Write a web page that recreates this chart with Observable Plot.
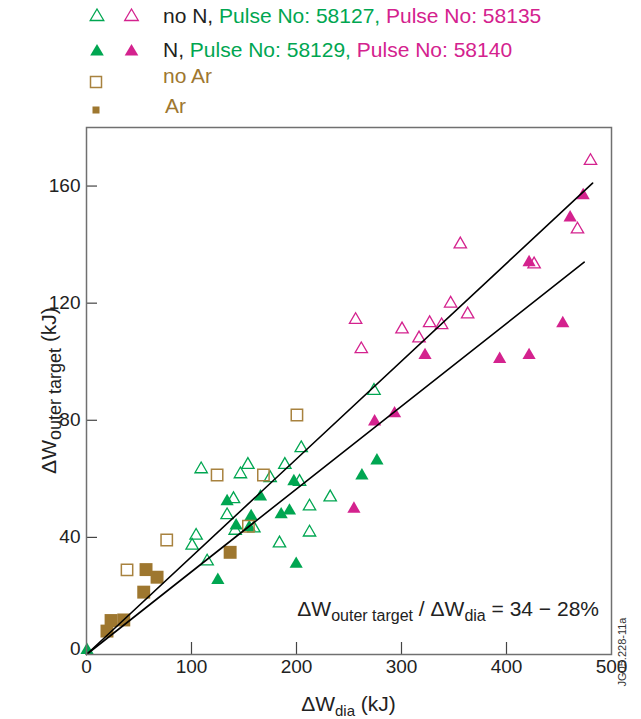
<!DOCTYPE html>
<html><head><meta charset="utf-8">
<script src="https://cdn.jsdelivr.net/npm/d3@7"></script>
<script src="https://cdn.jsdelivr.net/npm/@observablehq/plot@0.6"></script>
<style>
body{margin:0;background:#fff;}
#wrap{position:relative;width:641px;height:719px;font-family:"Liberation Sans",Arial,sans-serif;}
#wrap svg{position:absolute;left:0;top:0;}
</style></head><body><div id="wrap"></div>
<script>
// ---- data ----
const xTicks = [0, 100, 200, 300, 400, 500];
const yTicks = [0, 40, 80, 120, 160];

// no N, Pulse 58127 (green, open)
const greenOpenX = [100.6, 104.4, 109.2, 114.9, 133.9, 140.0, 141.6, 146.6, 153.7, 159.4, 174.9, 183.8, 188.9, 202.9, 204.5, 212.4, 212.4, 232.1, 273.8];
const greenOpenY = [37.2, 40.6, 63.3, 31.8, 47.6, 53.1, 42.3, 61.6, 64.8, 43.1, 60.3, 38.0, 64.8, 59.0, 70.5, 50.6, 41.7, 53.7, 90.1];
// N, Pulse 58129 (green, filled)
const greenFilledX = [0.5, 125.1, 133.9, 142.5, 155.0, 156.8, 165.7, 185.4, 193.3, 197.5, 199.7, 262.3, 276.6];
const greenFilledY = [1.5, 25.4, 52.3, 44.0, 43.4, 47.2, 53.9, 47.8, 49.1, 59.1, 30.9, 61.1, 66.2];
// no N, Pulse 58135 (magenta, open)
const magOpenX = [256.3, 261.7, 300.5, 316.7, 326.8, 338.2, 346.8, 356.0, 363.0, 426.3, 467.6, 480.0];
const magOpenY = [114.3, 104.3, 111.1, 108.0, 113.2, 112.5, 119.9, 140.1, 116.2, 133.3, 145.2, 168.6];
// N, Pulse 58140 (magenta, filled)
const magFilledX = [254.7, 274.4, 293.4, 322.4, 393.5, 421.5, 421.5, 453.6, 460.6, 473.0];
const magFilledY = [49.7, 79.5, 82.3, 102.2, 100.9, 102.2, 133.9, 113.1, 149.2, 156.8];
// no Ar (brown, open squares)
const noArX = [38.6, 76.4, 124.4, 154.2, 168.5, 200.4];
const noArY = [28.9, 39.1, 61.3, 43.8, 61.3, 81.8];
// Ar (brown, filled squares)
const arX = [19.5, 23.4, 35.5, 54.5, 56.7, 67.2, 136.8];
const arY = [8.0, 11.6, 11.8, 21.3, 29.0, 26.4, 34.9];
// fit lines
const fitHighX = [0, 482], fitHighY = [0, 161];
const fitLowX = [0, 474], fitLowY = [0, 134];

// ---- styles ----
const GREEN = "#00a651", MAG = "#d4228e", BROWN = "#9e772f", BROWN_OPEN = "#a8823f";
const FONT = '"Liberation Sans", Arial, Helvetica, sans-serif';

const pts = (xs, ys) => xs.map((x, i) => ({x, y: ys[i]}));

const plot = Plot.plot({
  width: 641, height: 719,
  marginLeft: 86, marginRight: 30, marginTop: 127, marginBottom: 65,
  style: {fontFamily: FONT, fontSize: "19px", color: "#222", background: "transparent"},
  x: {domain: [0, 500], axis: null},
  y: {domain: [0, 180], axis: null},
  marks: [
    Plot.ruleY(yTicks.filter(v => v > 0), {x1: 0, x2: 10.5, stroke: "#444", strokeWidth: 1.2}),
    Plot.ruleX(xTicks.filter(v => v > 0 && v < 500), {y1: 0, y2: 4.1, stroke: "#444", strokeWidth: 1.2}),
    Plot.axisY({ticks: yTicks.filter(v => v > 0), tickSize: 0, tickPadding: 6, fontSize: 19, tickFormat: d => d, label: null}),
    Plot.axisY({ticks: [0], tickSize: 0, tickPadding: 6, fontSize: 19, dy: -6, tickFormat: d => d, label: null}),
    Plot.axisX({ticks: xTicks, tickSize: 0, tickPadding: 5, fontSize: 19, tickFormat: d => d, label: null}),
    Plot.dot(pts(greenFilledX, greenFilledY), {x: "x", y: "y", symbol: "triangle", r: 4.9, fill: GREEN, stroke: "none"}),
    Plot.dot(pts(magFilledX, magFilledY), {x: "x", y: "y", symbol: "triangle", r: 4.9, fill: MAG, stroke: "none"}),
    Plot.dot(pts(greenOpenX, greenOpenY), {x: "x", y: "y", symbol: "triangle", r: 4.6, fill: "none", stroke: GREEN, strokeWidth: 1.3}),
    Plot.dot(pts(magOpenX, magOpenY), {x: "x", y: "y", symbol: "triangle", r: 4.6, fill: "none", stroke: MAG, strokeWidth: 1.3}),
    Plot.dot(pts(arX, arY), {x: "x", y: "y", symbol: "square", r: 7.3, fill: BROWN, stroke: "none"}),
    Plot.dot(pts(noArX, noArY), {x: "x", y: "y", symbol: "square", r: 6.4, fill: "none", stroke: BROWN_OPEN, strokeWidth: 1.5}),
    Plot.line(pts(fitHighX, fitHighY), {x: "x", y: "y", stroke: "#000", strokeWidth: 1.6}),
    Plot.line(pts(fitLowX, fitLowY), {x: "x", y: "y", stroke: "#000", strokeWidth: 1.6}),
    Plot.frame({stroke: "#707070", strokeWidth: 1.5})
  ]
});
document.getElementById("wrap").appendChild(plot);

// ---- text with subscripts ----
const sx = plot.scale("x"), sy = plot.scale("y");
const svg = d3.select(plot);
function richText(sel, parts, mainSize, subSize, shift) {
  parts.forEach(p => {
    const t = sel.append("tspan").text(p.t)
      .attr("font-size", p.sub ? subSize : mainSize);
    if (p.sub) t.attr("dy", shift); else if (p.back) t.attr("dy", -shift);
  });
}
// x label
const xl = svg.append("text").attr("x", (sx.apply(0) + sx.apply(500)) / 2).attr("y", 711)
  .attr("text-anchor", "middle").attr("fill", "#222").attr("font-family", FONT);
richText(xl, [{t: "\u0394W"}, {t: "dia", sub: true}, {t: " (kJ)", back: true}], 21, 15, 5);
// y label
const ymid = (sy.apply(0) + sy.apply(180)) / 2;
const yl = svg.append("text").attr("transform", `translate(56,${ymid}) rotate(-90)`)
  .attr("text-anchor", "middle").attr("fill", "#222").attr("font-family", FONT);
richText(yl, [{t: "\u0394W"}, {t: "outer target", sub: true}, {t: " (kJ)", back: true}], 21, 18, 5);
// annotation
const an = svg.append("text").attr("x", 599).attr("y", 616)
  .attr("text-anchor", "end").attr("fill", "#222").attr("font-family", FONT);
richText(an, [{t: "\u0394W"}, {t: "outer target", sub: true}, {t: " / \u0394W", back: true}, {t: "dia", sub: true}, {t: " = 34 \u2212 28%", back: true}], 21, 16, 5);
// figure id
svg.append("text").attr("transform", "translate(626,652) rotate(-90)")
  .attr("font-size", 11).attr("fill", "#333").attr("font-family", FONT).text("JG05.228-11a");

// ---- legend (above the frame) ----
const legendRows = [
  {y: 15, base: 22.5, sym: "triOpen", parts: [["no N, ", "#231f20"], ["Pulse No: 58127, ", GREEN], ["Pulse No: 58135", MAG]]},
  {y: 50, base: 57, sym: "triFilled", parts: [["N, ", "#231f20"], ["Pulse No: 58129, ", GREEN], ["Pulse No: 58140", MAG]]},
  {y: 82, base: 83, sym: "sqOpen", parts: [["no Ar", BROWN]]},
  {y: 110, base: 113, sym: "sqFilled", parts: [["Ar", BROWN]], dx: 2}
];
const lg = d3.select("#wrap").append("svg").attr("width", 641).attr("height", 125)
  .style("font-family", FONT);
const tri = (cx, cy) => `M${cx},${cy - 6}L${cx + 6.8},${cy + 5.5}L${cx - 6.8},${cy + 5.5}Z`;
legendRows.forEach(r => {
  if (r.sym === "triOpen" || r.sym === "triFilled") {
    [[97, GREEN], [131.5, MAG]].forEach(([cx, c]) => {
      const p = lg.append("path").attr("d", tri(cx, r.y));
      if (r.sym === "triOpen") p.attr("fill", "none").attr("stroke", c).attr("stroke-width", 1.3);
      else p.attr("fill", c);
    });
  } else if (r.sym === "sqOpen") {
    lg.append("rect").attr("x", 90.5).attr("y", r.y - 5.5).attr("width", 11).attr("height", 11)
      .attr("fill", "none").attr("stroke", BROWN_OPEN).attr("stroke-width", 1.5);
  } else {
    lg.append("rect").attr("x", 92.5).attr("y", r.y - 3.5).attr("width", 7).attr("height", 7).attr("fill", BROWN);
  }
  const t = lg.append("text").attr("x", 163 + (r.dx || 0)).attr("y", r.base).attr("font-size", 21);
  r.parts.forEach(([s, c]) => t.append("tspan").attr("fill", c).text(s));
});
</script>
</body></html>
